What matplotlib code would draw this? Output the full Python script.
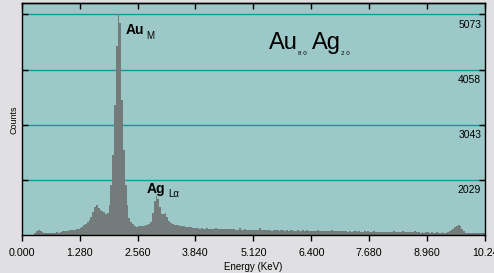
import numpy as np
import matplotlib.pyplot as plt

plt.rcParams['font.family'] = ['Liberation Sans', 'DejaVu Sans']

# EDS spectrum, counts per 0.04 keV channel from 0 to 10.24 keV
channel_width = 0.04
counts = [
    0, 0, 0, 0, 0, 0, 0, 1060, 1097, 1106, 1087, 1069, 1060, 1051, 1051, 1051,
    1060, 1060, 1060, 1069, 1060, 1069, 1087, 1087, 1097, 1087, 1106, 1106, 1115, 1115, 1124, 1124,
    1142, 1161, 1197, 1216, 1252, 1289, 1344, 1436, 1528, 1564, 1509, 1473, 1454, 1436, 1399, 1417,
    1564, 1931, 2481, 3398, 4499, 5073, 4920, 3490, 2573, 1931, 1564, 1326, 1252, 1216, 1179, 1161,
    1179, 1179, 1188, 1188, 1197, 1207, 1216, 1252, 1417, 1638, 1729, 1674, 1528, 1399, 1399, 1417,
    1344, 1271, 1234, 1216, 1207, 1197, 1197, 1188, 1179, 1179, 1170, 1161, 1161, 1161, 1152, 1152,
    1142, 1142, 1133, 1142, 1133, 1133, 1142, 1133, 1124, 1133, 1133, 1142, 1124, 1133, 1124, 1133,
    1133, 1124, 1124, 1133, 1124, 1124, 1115, 1115, 1142, 1115, 1106, 1124, 1115, 1115, 1106, 1115,
    1106, 1115, 1106, 1142, 1115, 1106, 1106, 1115, 1106, 1106, 1097, 1115, 1106, 1106, 1097, 1115,
    1106, 1097, 1106, 1097, 1115, 1106, 1097, 1097, 1106, 1097, 1097, 1106, 1097, 1115, 1097, 1097,
    1087, 1097, 1097, 1106, 1087, 1097, 1097, 1087, 1097, 1087, 1097, 1106, 1087, 1087, 1097, 1087,
    1087, 1097, 1087, 1087, 1078, 1087, 1078, 1087, 1087, 1078, 1087, 1078, 1078, 1087, 1078, 1087,
    1078, 1078, 1087, 1078, 1078, 1069, 1078, 1078, 1069, 1078, 1069, 1078, 1078, 1097, 1078, 1069,
    1078, 1069, 1087, 1069, 1078, 1069, 1069, 1078, 1069, 1087, 1069, 1069, 1060, 1069, 1060, 1069,
    1069, 1060, 1069, 1060, 1060, 1069, 1060, 1060, 1069, 1060, 1060, 1069, 1087, 1106, 1133, 1161,
    1188, 1197, 1179, 1133, 1087, 1060, 1051, 1051, 1051, 1051, 1051, 1051, 1051, 1051, 1051, 1051,
]
assert len(counts) == 256

xticks = [0.0, 1.28, 2.56, 3.84, 5.12, 6.40, 7.68, 8.96, 10.24]
xtick_labels = ['0.000', '1.280', '2.560', '3.840', '5.120', '6.400', '7.680', '8.960', '10.24']
yticks = [2029, 3043, 4058, 5073]
ymin, ymax = 1014, 5275

fig_bg = '#e0e0e2'
plot_bg = '#9dc8c8'
grid_col = '#17999a'
spec_col = '#737b7b'

fig = plt.figure(figsize=(4.94, 2.73), dpi=100, facecolor=fig_bg)
ax = fig.add_axes([0.0439, 0.1381, 0.9379, 0.8498])
ax.set_facecolor(plot_bg)

edges = np.arange(len(counts) + 1) * channel_width
ax.stairs(counts, edges, fill=True, color=spec_col, baseline=0, lw=0)

ax.set_xlim(0, 10.24)
ax.set_ylim(ymin, ymax)

ax.set_axisbelow(True)
ax.set_yticks(yticks)
ax.grid(axis='y', color=grid_col, lw=1.0)
ax.tick_params(axis='y', left=True, right=True, direction='in', length=4,
               width=1, labelleft=False)
for v in yticks:
    ax.annotate(str(v), xy=(1, v), xycoords=('axes fraction', 'data'),
                xytext=(-2.7, -3.8), textcoords='offset points',
                ha='right', va='top', fontsize=7.5)

ax.set_xticks(xticks, labels=xtick_labels)
ax.tick_params(axis='x', direction='out', length=4.5, width=1, pad=4.5,
               labelsize=7.7)
top = ax.secondary_xaxis('top')
top.set_xticks(xticks, labels=[])
top.tick_params(direction='in', length=4.1, width=1)

for s in ax.spines.values():
    s.set_linewidth(1)
top.spines['top'].set_linewidth(1)

ax.set_xlabel('Energy (KeV)', fontsize=7, labelpad=3)
ax.set_ylabel('Counts', fontsize=6.4, labelpad=2.5)

# peak labels
ax.text(2.30, 4706, 'Au', fontsize=10, fontweight='bold', ha='left', va='baseline')
ax.text(2.76, 4614, 'M', fontsize=7, ha='left', va='baseline')
ax.text(2.773, 1790, 'Ag', fontsize=10, fontweight='bold', ha='left', va='baseline')
ax.text(3.23, 1722, 'L\u03b1', fontsize=7, ha='left', va='baseline')

# composition
ax.text(5.46, 4444, 'Au', fontsize=17, ha='left', va='baseline')
ax.text(6.10, 4334, '8 0', fontsize=4.5, ha='left', va='baseline')
ax.text(6.415, 4444, 'Ag', fontsize=17, ha='left', va='baseline')
ax.text(7.05, 4334, '2 0', fontsize=4.5, ha='left', va='baseline')

fig.savefig('out.png', dpi=100, facecolor=fig_bg)
